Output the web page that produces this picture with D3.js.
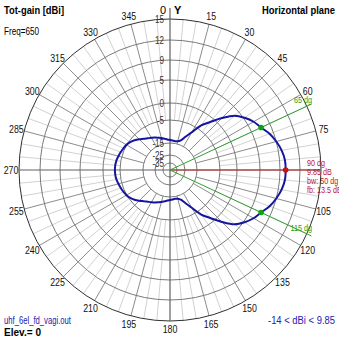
<!DOCTYPE html>
<html><head><meta charset="utf-8">
<script src="https://cdn.jsdelivr.net/npm/d3@7"></script>
<style>
html,body{margin:0;padding:0;background:#fff;}
svg{display:block;font-family:"Liberation Sans",Arial,sans-serif;}
</style></head>
<body>
<script>
// ---- data ----
const azimuths = d3.range(0, 360, 5);
const gainDbi = [
 -13.7,-13.9,-14.0,-13.8,-13.0,-10.8,-7.8,-3.7,-1.3,1.4,3.8,5.2,6.3,7.1,8.2,9.0,9.5,9.8,
 9.85,9.8,9.5,9.0,8.2,7.1,6.3,5.2,3.8,1.4,-1.3,-3.7,-7.8,-10.8,-13.0,-13.8,-14.0,-13.9,
 -13.7,-13.4,-12.9,-12.3,-11.8,-11.2,-10.6,-9.9,-9.0,-7.8,-6.6,-5.6,-4.9,-4.6,-4.3,-4.0,-3.7,-3.55,
 -3.5,-3.55,-3.7,-4.0,-4.3,-4.6,-4.9,-5.6,-6.6,-7.8,-9.0,-9.9,-10.6,-11.2,-11.8,-12.3,-12.9,-13.4
];
const ringValues = [15, 12, 9, 5, 0, -5, -15, -25, -35];
const angleTicks = [0,15,30,45,60,75,105,120,135,150,165,180,195,210,225,240,255,270,285,300,315,330,345];
const maxDir = 90, maxGain = 9.85;
const bwDirs = [65, 115];
const title = "Tot-gain [dBi]", plane = "Horizontal plane", freq = "Freq=650";
const fileName = "uhf_6el_fd_vagi.out", elev = "Elev.= 0", rangeText = "-14 < dBi < 9.85";
const infoLines = ["90 dg", "9.85 dB", "bw: 50 dg", "fb: 13.5 dB"];

// ---- layout ----
const W = 339, H = 339, cx = 170, cy = 170, R = 151;
const r = d3.scaleLinear()
  .domain([-35,-25,-15,-5,0,5,9,12,15])
  .range([7,15,27,50,67,90,110,130,151]);
const rad = d => d * Math.PI / 180;
const px = (a, rr) => cx + rr * Math.sin(rad(a));
const py = (a, rr) => cy - rr * Math.cos(rad(a));

const svg = d3.select("body").append("svg").attr("width", W).attr("height", H);
const g = svg.append("g");

// horizontally compress a text (narrow bitmap-like font look)
function squeeze(sel, f) {
  const n = sel.node();
  const w = n.getComputedTextLength();
  sel.attr("textLength", (w * f).toFixed(1)).attr("lengthAdjust", "spacingAndGlyphs");
  return sel;
}

// fine spokes every 5 deg
d3.range(0, 360, 5).filter(a => a % 15 !== 0).forEach(a => {
  g.append("line").attr("x1", px(a, r(-5))).attr("y1", py(a, r(-5)))
   .attr("x2", px(a, R)).attr("y2", py(a, R))
   .attr("stroke", "#d2d2d2").attr("stroke-width", 1);
});
// main spokes every 15 deg
d3.range(0, 360, 15).filter(a => a % 90 !== 0).forEach(a => {
  g.append("line").attr("x1", px(a, r(-15))).attr("y1", py(a, r(-15)))
   .attr("x2", px(a, R)).attr("y2", py(a, R))
   .attr("stroke", "#8c8c8c").attr("stroke-width", 1);
});
// rings
ringValues.forEach((v, i) => {
  g.append("circle").attr("cx", cx).attr("cy", cy).attr("r", r(v))
   .attr("fill", "none").attr("stroke", i === 0 ? "#303030" : "#7a7a7a").attr("stroke-width", 1);
});
// axes
g.append("line").attr("x1", cx).attr("y1", cy - 162).attr("x2", cx).attr("y2", cy + R)
 .attr("stroke", "#606060").attr("stroke-width", 1.2);
g.append("line").attr("x1", cx - R).attr("y1", cy).attr("x2", cx + R).attr("y2", cy)
 .attr("stroke", "#606060").attr("stroke-width", 1.2);

// ring labels
ringValues.forEach(v => {
  squeeze(g.append("text").attr("x", cx - 6).attr("y", cy - r(v)).attr("text-anchor", "end")
   .attr("dominant-baseline", "central").attr("font-size", 10).attr("fill", "#333")
   .text(v), 0.8);
});

// angle labels
angleTicks.forEach(a => {
  if (a === 0) {
    g.append("text").attr("x", cx - 4).attr("y", 10).attr("text-anchor", "end")
     .attr("dominant-baseline", "central").attr("font-size", 11).text("0");
    g.append("text").attr("x", cx + 4).attr("y", 10).attr("text-anchor", "start")
     .attr("dominant-baseline", "central").attr("font-size", 11).attr("font-weight", "bold").text("Y");
    return;
  }
  const rr = 159;
  squeeze(g.append("text").attr("x", px(a, rr)).attr("y", py(a, rr)).attr("text-anchor", "middle")
   .attr("dominant-baseline", "central").attr("font-size", 11).attr("fill", "#111").text(a), 0.8);
});

// marker lines
g.append("line").attr("x1", cx).attr("y1", cy).attr("x2", px(maxDir, 150)).attr("y2", py(maxDir, 150))
 .attr("stroke", "#c03030").attr("stroke-width", 1);
bwDirs.forEach(a => {
  g.append("line").attr("x1", cx).attr("y1", cy).attr("x2", px(a, 156)).attr("y2", py(a, 156))
   .attr("stroke", "#30a030").attr("stroke-width", 1);
});

// pattern
const pts = azimuths.map((a, i) => ({az: a, db: gainDbi[i]}));
const line = d3.lineRadial().angle(d => rad(d.az)).radius(d => r(d.db)).curve(d3.curveCatmullRomClosed);
g.append("path").attr("transform", `translate(${cx},${cy})`).attr("d", line(pts))
 .attr("fill", "none").attr("stroke", "#1414a0").attr("stroke-width", 2);

// dots
const gainAt = a => gainDbi[azimuths.indexOf(a)];
bwDirs.forEach(a => {
  g.append("circle").attr("cx", px(a, r(gainAt(a)))).attr("cy", py(a, r(gainAt(a)))).attr("r", 2.8).attr("fill", "#10a010");
});
g.append("circle").attr("cx", px(maxDir, r(maxGain))).attr("cy", py(maxDir, r(maxGain))).attr("r", 2.8).attr("fill", "#d01010");

// marker labels
squeeze(g.append("text").attr("x", 312).attr("y", 100).attr("text-anchor", "end").attr("font-size", 9)
 .attr("fill", "#20a020").attr("dominant-baseline", "central").text(bwDirs[0] + " dg"), 0.8);
squeeze(g.append("text").attr("x", 312).attr("y", 228).attr("text-anchor", "end").attr("font-size", 9)
 .attr("fill", "#20a020").attr("dominant-baseline", "central").text(bwDirs[1] + " dg"), 0.8);
infoLines.forEach((t, i) => {
  squeeze(g.append("text").attr("x", 307).attr("y", 163 + i * 9).attr("font-size", 9)
   .attr("fill", "#c01818").attr("dominant-baseline", "central").text(t), 0.8);
});

// header / footer
function fitText(sel, w) { return sel.attr("textLength", w).attr("lengthAdjust", "spacingAndGlyphs"); }
fitText(svg.append("text").attr("x", 4).attr("y", 14).attr("font-size", 11).attr("font-weight", "bold").text(title), 60);
fitText(svg.append("text").attr("x", 335).attr("y", 14).attr("text-anchor", "end").attr("font-size", 11).attr("font-weight", "bold").text(plane), 73);
fitText(svg.append("text").attr("x", 4).attr("y", 35).attr("font-size", 10).text(freq), 35);
fitText(svg.append("text").attr("x", 4).attr("y", 324).attr("font-size", 10).attr("fill", "#2020b0").text(fileName), 67);
fitText(svg.append("text").attr("x", 4).attr("y", 336).attr("font-size", 11).attr("font-weight", "bold").text(elev), 37);
fitText(svg.append("text").attr("x", 335).attr("y", 324).attr("text-anchor", "end").attr("font-size", 10).attr("fill", "#2020b0").text(rangeText), 67);
</script>
</body></html>
